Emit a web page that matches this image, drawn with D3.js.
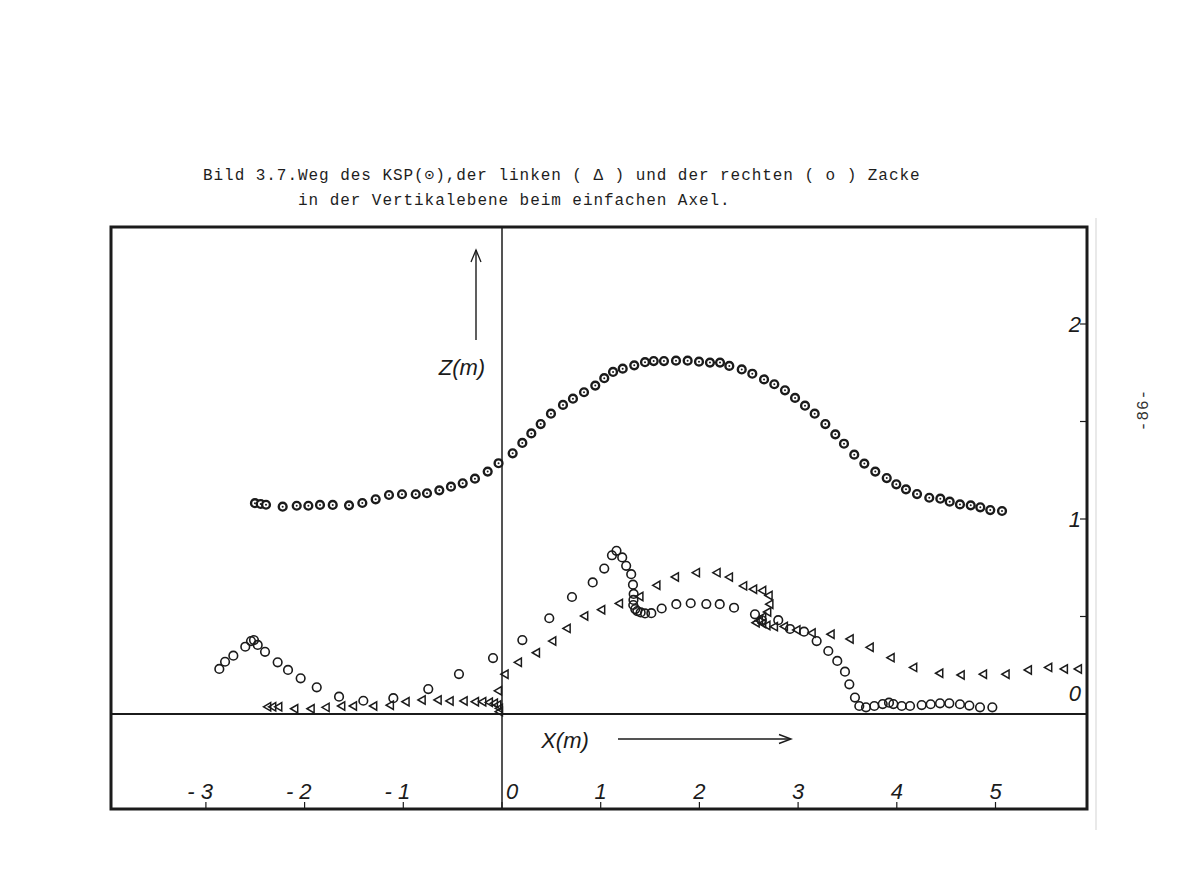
<!DOCTYPE html>
<html>
<head>
<meta charset="utf-8">
<script src="https://cdn.jsdelivr.net/npm/d3@7"></script>
<style>
  html, body { margin: 0; padding: 0; background: #ffffff; }
  svg { display: block; }
</style>
</head>
<body>
<svg id="chart" width="1200" height="878"></svg>
<script>
// ---------- DATA ----------
// KSP (centre of mass) path  (⊙)
const kspX = [-2.503,-2.445,-2.391,-2.222,-2.080,-1.962,-1.844,-1.715,-1.550,-1.415,-1.280,-1.145,-1.013,-0.874,-0.760,-0.635,-0.517,-0.398,-0.274,-0.145,-0.035,0.108,0.206,0.297,0.392,0.496,0.618,0.719,0.831,0.945,1.036,1.125,1.223,1.340,1.449,1.537,1.641,1.763,1.881,1.996,2.107,2.209,2.303,2.429,2.536,2.655,2.759,2.867,2.969,3.070,3.168,3.276,3.377,3.465,3.569,3.671,3.782,3.898,3.995,4.093,4.205,4.329,4.441,4.536,4.640,4.749,4.846,4.947,5.066];
const kspZ = [1.081,1.077,1.073,1.063,1.068,1.068,1.072,1.072,1.070,1.082,1.101,1.123,1.127,1.127,1.132,1.147,1.166,1.183,1.207,1.243,1.286,1.337,1.390,1.439,1.487,1.540,1.585,1.617,1.650,1.684,1.722,1.754,1.771,1.788,1.804,1.810,1.810,1.812,1.812,1.807,1.802,1.802,1.785,1.767,1.745,1.716,1.691,1.660,1.621,1.581,1.540,1.487,1.434,1.386,1.330,1.284,1.243,1.210,1.178,1.152,1.128,1.109,1.104,1.089,1.075,1.070,1.060,1.046,1.041];

// right Zacke (o)
const rightX = [-2.864,-2.806,-2.722,-2.601,-2.543,-2.513,-2.475,-2.401,-2.273,-2.168,-2.040,-1.877,-1.651,-1.405,-1.101,-0.747,-0.436,-0.091,0.206,0.479,0.709,0.919,1.036,1.114,1.160,1.218,1.258,1.309,1.327,1.334,1.332,1.330,1.350,1.371,1.405,1.449,1.513,1.618,1.766,1.912,2.070,2.206,2.351,2.563,2.631,2.799,2.918,3.060,3.188,3.306,3.397,3.475,3.519,3.576,3.620,3.688,3.772,3.857,3.921,3.965,4.050,4.134,4.252,4.343,4.438,4.532,4.640,4.735,4.843,4.968];
const rightZ = [0.231,0.268,0.299,0.345,0.374,0.379,0.354,0.319,0.265,0.226,0.183,0.137,0.089,0.068,0.081,0.128,0.205,0.287,0.379,0.491,0.600,0.675,0.746,0.814,0.837,0.803,0.760,0.717,0.663,0.616,0.585,0.559,0.538,0.528,0.521,0.516,0.517,0.541,0.563,0.568,0.564,0.563,0.545,0.511,0.482,0.481,0.436,0.422,0.374,0.323,0.272,0.217,0.152,0.084,0.041,0.034,0.041,0.051,0.058,0.051,0.041,0.041,0.046,0.050,0.055,0.055,0.050,0.043,0.034,0.034];

// left Zacke (Δ)
const leftX = [-2.368,-2.317,-2.256,-2.094,-1.928,-1.776,-1.618,-1.499,-1.294,-1.125,-0.966,-0.803,-0.641,-0.520,-0.378,-0.263,-0.189,-0.122,-0.071,-0.037,-0.020,-0.020,-0.030,0.037,0.172,0.355,0.520,0.666,0.844,1.016,1.196,1.403,1.575,1.763,1.976,2.185,2.310,2.454,2.555,2.647,2.712,2.720,2.698,2.647,2.614,2.581,2.647,2.690,2.766,2.867,2.994,3.148,3.340,3.533,3.736,3.948,4.177,4.441,4.658,4.884,5.113,5.339,5.545,5.704,5.846];
const leftZ = [0.037,0.037,0.037,0.027,0.027,0.034,0.041,0.041,0.041,0.045,0.063,0.072,0.072,0.067,0.067,0.063,0.063,0.060,0.055,0.046,0.029,0.012,0.119,0.204,0.265,0.314,0.374,0.439,0.503,0.535,0.567,0.603,0.660,0.703,0.725,0.725,0.702,0.657,0.640,0.633,0.608,0.563,0.523,0.497,0.479,0.468,0.464,0.454,0.448,0.449,0.431,0.415,0.409,0.385,0.342,0.289,0.239,0.209,0.200,0.204,0.204,0.226,0.239,0.231,0.231];

// axis ticks / labels
const xTickValues = [-3,-2,-1,0,1,2,3,4,5];
const xTickLabels = ["- 3","- 2","- 1","0","1","2","3","4","5"];
const zTickValues = [0.5,1,1.5,2];
const zLabelValues = [0,1,2];
const zLabelTexts = ["0","1","2"];

const titleLine1 = "Bild 3.7.Weg des KSP(\u2299),der linken ( \u0394 ) und der rechten ( o ) Zacke";
const titleLine2 = "in der Vertikalebene beim einfachen Axel.";

// ---------- DRAWING ----------
const ink = "#1b1b1b";
const svg = d3.select("#chart");

const frame = {left: 111, top: 227, right: 1087, bottom: 809};

const x = d3.scaleLinear().domain([0, 1]).range([502, 600.7]);
const z = d3.scaleLinear().domain([0, 1]).range([714, 519]);

// faint scan line at the right edge of the chart
svg.append("line").attr("x1",1096).attr("x2",1096).attr("y1",218).attr("y2",830)
  .attr("stroke","#e2e2e2").attr("stroke-width",1.5);

// title
const tf = "'Liberation Mono','DejaVu Sans Mono',monospace";
svg.append("text").attr("x",203).attr("y",180).text(titleLine1)
  .attr("font-family",tf).attr("font-size",16).attr("letter-spacing","0.95px")
  .attr("fill","#1e1e1e");
svg.append("text").attr("x",298).attr("y",205).text(titleLine2)
  .attr("font-family",tf).attr("font-size",16).attr("letter-spacing","0.95px")
  .attr("fill","#1e1e1e");

// page number
svg.append("text").attr("transform","translate(1148,410) rotate(-90)")
  .attr("text-anchor","middle").text("-86-")
  .attr("font-family",tf).attr("font-size",16).attr("letter-spacing","1px").attr("fill","#333");

// frame
svg.append("rect").attr("x",frame.left).attr("y",frame.top)
  .attr("width",frame.right-frame.left).attr("height",frame.bottom-frame.top)
  .attr("fill","none").attr("stroke",ink).attr("stroke-width",3);

// axes lines
svg.append("line").attr("x1",frame.left).attr("x2",frame.right)
  .attr("y1",z(0)).attr("y2",z(0)).attr("stroke",ink).attr("stroke-width",1.8);
svg.append("line").attr("x1",x(0)).attr("x2",x(0))
  .attr("y1",frame.top).attr("y2",frame.bottom).attr("stroke",ink).attr("stroke-width",1.5);

const lf = "'Liberation Sans','DejaVu Sans',sans-serif";

// bottom ticks & labels
svg.selectAll(".xt").data(xTickValues).enter().append("line")
  .attr("x1",d=>x(d)).attr("x2",d=>x(d)).attr("y1",frame.bottom-1).attr("y2",frame.bottom-7)
  .attr("stroke",ink).attr("stroke-width",1.2);
svg.selectAll(".xl").data(xTickValues).enter().append("text")
  .attr("x",(d)=> d<0 ? x(d)+7 : (d===0 ? x(d)+4 : x(d)))
  .attr("y",799)
  .attr("text-anchor",d=> d<0 ? "end" : (d===0 ? "start" : "middle"))
  .attr("font-family",lf).attr("font-style","italic").attr("font-size",22)
  .attr("fill",ink)
  .text((d,i)=>xTickLabels[i]);

// right ticks & labels
svg.selectAll(".zt").data(zTickValues).enter().append("line")
  .attr("x1",frame.right-1).attr("x2",frame.right-7).attr("y1",d=>z(d)).attr("y2",d=>z(d))
  .attr("stroke",ink).attr("stroke-width",1.2);
svg.selectAll(".zl").data(zLabelValues).enter().append("text")
  .attr("x",1081).attr("y",d=> d===0 ? z(d)-13 : z(d)+8)
  .attr("text-anchor","end")
  .attr("font-family",lf).attr("font-style","italic").attr("font-size",22)
  .attr("fill",ink)
  .text((d,i)=>zLabelTexts[i]);

// axis titles with arrows
svg.append("text").attr("x",462).attr("y",375).attr("text-anchor","middle")
  .attr("font-family",lf).attr("font-style","italic").attr("font-size",22).attr("fill",ink)
  .text("Z(m)");
svg.append("line").attr("x1",476).attr("x2",476).attr("y1",340).attr("y2",250)
  .attr("stroke",ink).attr("stroke-width",1.4);
svg.append("path").attr("d","M471,262 L476,250 L481,262").attr("fill","none")
  .attr("stroke",ink).attr("stroke-width",1.3);

svg.append("text").attr("x",565).attr("y",748).attr("text-anchor","middle")
  .attr("font-family",lf).attr("font-style","italic").attr("font-size",22).attr("fill",ink)
  .text("X(m)");
svg.append("line").attr("x1",618).attr("x2",790).attr("y1",739).attr("y2",739)
  .attr("stroke",ink).attr("stroke-width",1.6);
svg.append("path").attr("d","M779,734.5 L791,739 L779,743.5").attr("fill","none")
  .attr("stroke",ink).attr("stroke-width",1.4);

// ---------- series ----------
const kspData = kspX.map((v,i)=>({x:v, z:kspZ[i]}));
const rightData = rightX.map((v,i)=>({x:v, z:rightZ[i]}));
const leftData = leftX.map((v,i)=>({x:v, z:leftZ[i]}));

// left Zacke: left-pointing open triangles
const tri = d3.symbol().type(d3.symbolTriangle).size(30);
svg.append("g").selectAll("path").data(leftData).enter().append("path")
  .attr("d", tri)
  .attr("transform", d=>`translate(${x(d.x)},${z(d.z)}) rotate(-90)`)
  .attr("fill","none").attr("stroke",ink).attr("stroke-width",1.5);

// right Zacke: open circles
svg.append("g").selectAll("circle").data(rightData).enter().append("circle")
  .attr("cx",d=>x(d.x)).attr("cy",d=>z(d.z)).attr("r",4.3)
  .attr("fill","none").attr("stroke",ink).attr("stroke-width",1.6);

// KSP: bold circles with centre dot
const kg = svg.append("g").selectAll("g").data(kspData).enter().append("g")
  .attr("transform", d=>`translate(${x(d.x)},${z(d.z)})`);
kg.append("circle").attr("r",3.9).attr("fill","#fff").attr("stroke",ink).attr("stroke-width",2.4);
kg.append("circle").attr("r",1).attr("fill",ink);
</script>
</body>
</html>
